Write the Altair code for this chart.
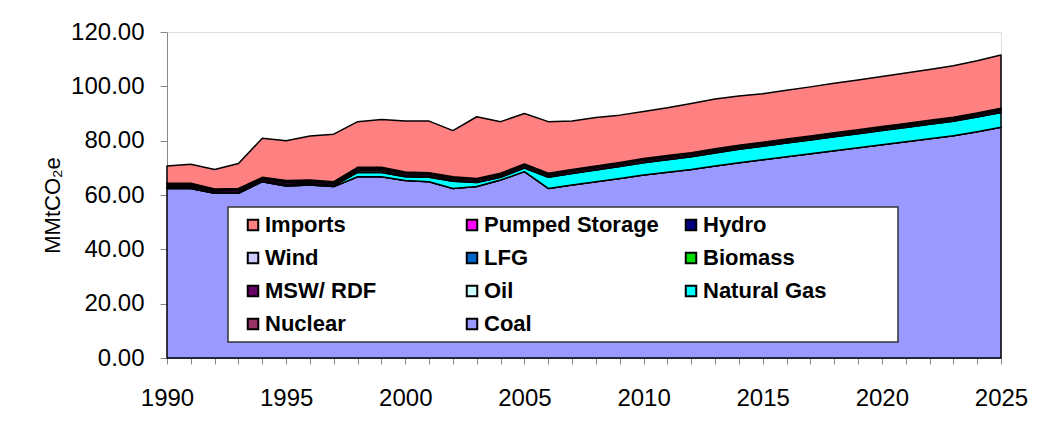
import altair as alt
import pandas as pd

years = [1990, 1991, 1992, 1993, 1994, 1995, 1996, 1997, 1998, 1999,
         2000, 2001, 2002, 2003, 2004, 2005, 2006, 2007, 2008, 2009,
         2010, 2011, 2012, 2013, 2014, 2015, 2016, 2017, 2018, 2019,
         2020, 2021, 2022, 2023, 2024, 2025]

coal = [62.4, 62.4, 60.6, 60.6, 64.9, 63.3, 63.7, 63.1, 66.7, 66.7,
        65.3, 64.9, 62.4, 63.1, 65.5, 68.6, 62.4, 63.7, 64.9, 66.1,
        67.4, 68.4, 69.4, 70.7, 71.9, 73.0, 74.1, 75.2, 76.3, 77.4,
        78.5, 79.6, 80.7, 81.8, 83.3, 84.9]
nuclear = [0.0, 0.0, 0.0, 0.0, 0.0, 0.0, 0.0, 0.0, 0.0, 0.0,
           0.0, 0.0, 0.0, 0.0, 0.0, 0.0, 0.0, 0.0, 0.0, 0.0,
           0.0, 0.0, 0.0, 0.0, 0.0, 0.0, 0.0, 0.0, 0.0, 0.0,
           0.0, 0.0, 0.0, 0.0, 0.0, 0.0]
natural_gas = [0.4, 0.4, 0.2, 0.3, 0.2, 0.5, 0.3, 0.3, 1.6, 1.6,
               1.4, 1.6, 2.7, 1.5, 1.0, 1.3, 4.1, 4.2, 4.3, 4.4,
               4.5, 4.6, 4.7, 4.8, 4.9, 4.9, 5.0, 5.0, 5.1, 5.1,
               5.2, 5.2, 5.3, 5.3, 5.4, 5.5]
oil = [0.2, 0.2, 0.1, 0.2, 0.1, 0.2, 0.2, 0.2, 0.6, 0.6,
       0.5, 0.4, 0.3, 0.2, 0.2, 0.2, 0.2, 0.2, 0.2, 0.2,
       0.2, 0.2, 0.2, 0.2, 0.2, 0.2, 0.2, 0.2, 0.2, 0.2,
       0.2, 0.2, 0.2, 0.2, 0.2, 0.2]
msw_rdf = [0.7, 0.7, 0.7, 0.7, 0.7, 0.7, 0.7, 0.7, 0.7, 0.7,
           0.7, 0.7, 0.7, 0.7, 0.7, 0.7, 0.7, 0.7, 0.7, 0.7,
           0.7, 0.7, 0.7, 0.7, 0.7, 0.7, 0.7, 0.7, 0.7, 0.7,
           0.7, 0.7, 0.7, 0.7, 0.7, 0.7]
biomass = [0.3, 0.3, 0.3, 0.3, 0.3, 0.3, 0.3, 0.3, 0.3, 0.3,
           0.3, 0.3, 0.3, 0.3, 0.3, 0.3, 0.3, 0.3, 0.3, 0.3,
           0.3, 0.3, 0.3, 0.3, 0.3, 0.3, 0.3, 0.3, 0.3, 0.3,
           0.3, 0.3, 0.3, 0.3, 0.3, 0.3]
lfg = [0.3, 0.3, 0.3, 0.3, 0.3, 0.3, 0.3, 0.3, 0.3, 0.3,
       0.3, 0.3, 0.3, 0.3, 0.3, 0.3, 0.3, 0.3, 0.3, 0.3,
       0.3, 0.3, 0.3, 0.3, 0.3, 0.3, 0.3, 0.3, 0.3, 0.3,
       0.3, 0.3, 0.3, 0.3, 0.3, 0.3]
wind = [0.0, 0.0, 0.0, 0.0, 0.0, 0.0, 0.0, 0.0, 0.0, 0.0,
        0.0, 0.0, 0.0, 0.0, 0.0, 0.0, 0.0, 0.0, 0.0, 0.0,
        0.0, 0.0, 0.0, 0.0, 0.0, 0.0, 0.0, 0.0, 0.0, 0.0,
        0.0, 0.0, 0.0, 0.0, 0.0, 0.0]
hydro = [0.0, 0.0, 0.0, 0.0, 0.0, 0.0, 0.0, 0.0, 0.0, 0.0,
         0.0, 0.0, 0.0, 0.0, 0.0, 0.0, 0.0, 0.0, 0.0, 0.0,
         0.0, 0.0, 0.0, 0.0, 0.0, 0.0, 0.0, 0.0, 0.0, 0.0,
         0.0, 0.0, 0.0, 0.0, 0.0, 0.0]
pumped_storage = [0.0, 0.0, 0.0, 0.0, 0.0, 0.0, 0.0, 0.0, 0.0, 0.0,
                  0.0, 0.0, 0.0, 0.0, 0.0, 0.0, 0.0, 0.0, 0.0, 0.0,
                  0.0, 0.0, 0.0, 0.0, 0.0, 0.0, 0.0, 0.0, 0.0, 0.0,
                  0.0, 0.0, 0.0, 0.0, 0.0, 0.0]
imports = [6.4, 7.0, 7.2, 9.2, 14.4, 14.7, 16.2, 17.5, 16.8, 17.6,
           18.7, 19.0, 17.0, 22.7, 19.0, 18.6, 19.0, 17.8, 17.8, 17.4,
           17.3, 17.6, 18.1, 18.3, 18.1, 17.9, 18.0, 18.1, 18.2, 18.3,
           18.4, 18.6, 18.7, 19.0, 19.2, 19.6]

# legend entries (column by column, so rows read: Imports, Pumped Storage, Hydro / Wind, LFG, Biomass / ...)
legend_names = ["Imports", "Wind", "MSW/ RDF", "Nuclear",
                "Pumped Storage", "LFG", "Oil", "Coal",
                "Hydro", "Biomass", "Natural Gas"]
legend_colors = ["#FF8080", "#CCCCFF", "#660066", "#993366",
                 "#FF00FF", "#0066CC", "#CCFFFF", "#9999FF",
                 "#000080", "#00E000", "#00FFFF"]

# stacking order from the bottom
stack_series = [("Coal", coal), ("Nuclear", nuclear), ("Natural Gas", natural_gas),
                ("Oil", oil), ("MSW/ RDF", msw_rdf), ("Biomass", biomass),
                ("LFG", lfg), ("Wind", wind), ("Hydro", hydro),
                ("Pumped Storage", pumped_storage), ("Imports", imports)]

rows = []
for rank, (name, vals) in enumerate(stack_series):
    for yr, v in zip(years, vals):
        rows.append({"year": yr, "series": name, "value": v, "rank": rank})
df = pd.DataFrame(rows)

y_ticks = [0, 20, 40, 60, 80, 100, 120]
FONT = "Liberation Sans"

areas = alt.Chart(df).mark_area(
    stroke="black", strokeWidth=1.5, strokeJoin="round", interpolate="linear"
).encode(
    x=alt.X("year:Q",
            scale=alt.Scale(domain=[1990, 2025], nice=False, zero=False),
            axis=alt.Axis(values=years, title=None, grid=False,
                          labelExpr="datum.value % 5 == 0 ? datum.value : ''",
                          tickSize=6, labelPadding=22, labelFontSize=24,
                          labelFlush=False, labelOverlap=False)),
    y=alt.Y("value:Q", stack="zero",
            scale=alt.Scale(domain=[0, 120], nice=False),
            axis=alt.Axis(values=y_ticks, format=".2f", title="MMtCO₂e", grid=False,
                          tickSize=7, labelPadding=16, labelFontSize=24,
                          titleFontSize=22, titleFontWeight="normal",
                          titleX=-115, titleY=173, titleAngle=270,
                          titleAlign="center", titleBaseline="middle")),
    color=alt.Color("series:N",
                    scale=alt.Scale(domain=legend_names, range=legend_colors),
                    legend=alt.Legend(orient="none", legendX=75, legendY=182,
                                      columns=3, title=None, symbolType="square",
                                      symbolSize=110, symbolStrokeColor="black",
                                      symbolStrokeWidth=2, labelFontSize=22,
                                      labelFont=FONT, labelFontWeight="bold",
                                      labelColor="black", labelOffset=1,
                                      padding=0, rowPadding=11, columnPadding=21,
                                      gridAlign="all", labelLimit=400)),
    order=alt.Order("rank:Q", sort="ascending"),
)

legend_box = alt.Chart(pd.DataFrame({"box": [1]})).mark_rect(
    fill="white", stroke="#333333", strokeWidth=1.5
).encode(
    x=alt.value(61), x2=alt.value(731), y=alt.value(175), y2=alt.value(310)
)

chart = alt.layer(areas, legend_box).properties(
    width=834, height=326,
    autosize="none",
    padding={"left": 159, "top": 24, "right": 35, "bottom": 70},
).configure_view(
    stroke=None
).configure_axis(
    domainColor="black", tickColor="black", labelColor="black", titleColor="black",
    labelFont=FONT, titleFont=FONT, labelFontWeight="bold", domainWidth=1.2,
    tickWidth=1.2
).configure(background="white")

chart.save("out.html", embed_options={"renderer": "svg", "actions": False})
